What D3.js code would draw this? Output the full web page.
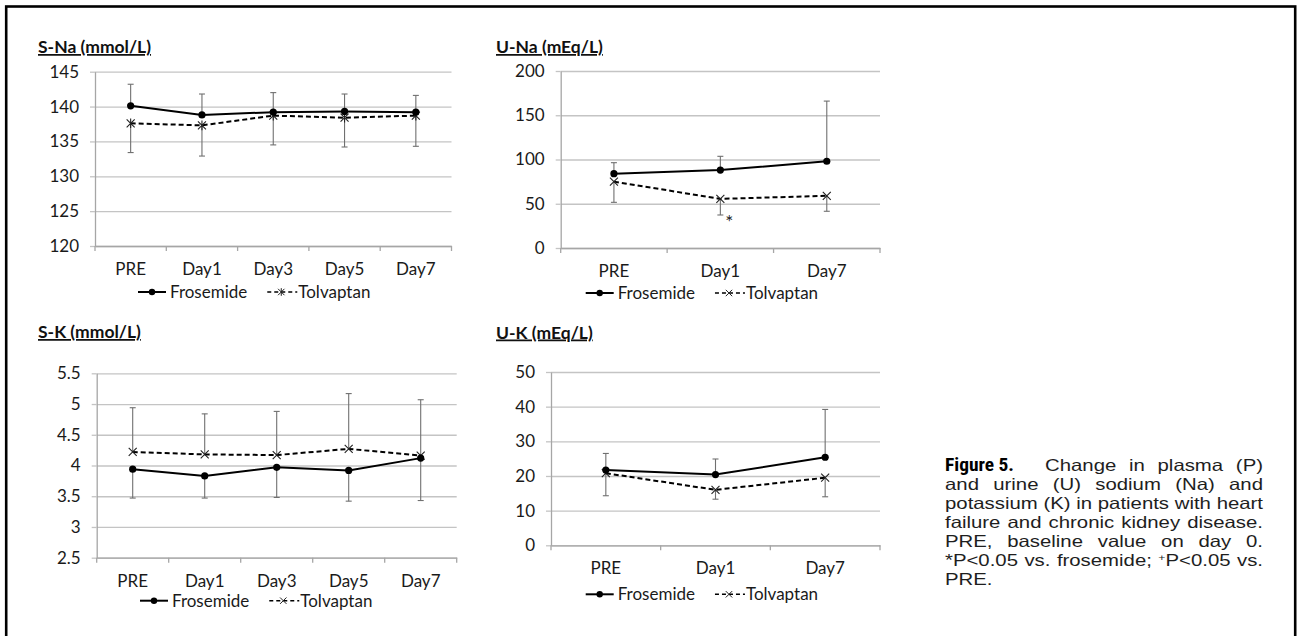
<!DOCTYPE html>
<html>
<head>
<meta charset="utf-8">
<script src="https://cdn.jsdelivr.net/npm/d3@7"></script>
<style>
  body { margin: 0; background: #fff; }
  svg { display: block; }
</style>
</head>
<body>
<div id="chart"></div>
<script>
// values (error bar values are the end of each bar)
var sNaCats = ["PRE", "Day1", "Day3", "Day5", "Day7"];
var sNaTicks = [120, 125, 130, 135, 140, 145];
var sNaFrosemide = [140.1, 138.8, 139.2, 139.3, 139.2];
var sNaFrosemideErr = [143.2, 141.8, 142.0, 141.8, 141.6];
var sNaTolvaptan = [137.6, 137.3, 138.7, 138.4, 138.7];
var sNaTolvaptanErr = [133.4, 132.9, 134.5, 134.2, 134.3];

var uNaCats = ["PRE", "Day1", "Day7"];
var uNaTicks = [0, 50, 100, 150, 200];
var uNaFrosemide = [84, 88, 98];
var uNaFrosemideErr = [96.4, 103.6, 166];
var uNaTolvaptan = [75, 55.5, 59];
var uNaTolvaptanErr = [51.6, 37.3, 41.5];
var uNaNotes = [{ cat: "Day1", value: 31, text: "*" }];

var sKCats = ["PRE", "Day1", "Day3", "Day5", "Day7"];
var sKTicks = [2.5, 3, 3.5, 4, 4.5, 5, 5.5];
var sKFrosemide = [3.94, 3.83, 3.97, 3.92, 4.12];
var sKFrosemideErr = [3.47, 3.47, 3.48, 3.42, 3.43];
var sKTolvaptan = [4.22, 4.18, 4.17, 4.27, 4.16];
var sKTolvaptanErr = [4.94, 4.84, 4.88, 5.17, 5.07];

var uKCats = ["PRE", "Day1", "Day7"];
var uKTicks = [0, 10, 20, 30, 40, 50];
var uKFrosemide = [21.7, 20.4, 25.4];
var uKFrosemideErr = [26.5, 24.9, 39.2];
var uKTolvaptan = [20.8, 16.0, 19.5];
var uKTolvaptanErr = [14.3, 13.3, 14.0];

var seriesNames = ["Frosemide", "Tolvaptan"];

var captionLines = [
  "and urine (U) sodium (Na) and",
  "potassium (K) in patients with heart",
  "failure and chronic kidney disease.",
  "PRE, baseline value on day 0.",
  "*P<0.05 vs. frosemide; +P<0.05 vs.",
  "PRE."
];

var panels = [
  { title: "S-Na (mmol/L)", cats: sNaCats, ticks: sNaTicks,
    fro: sNaFrosemide, froErr: sNaFrosemideErr, tol: sNaTolvaptan, tolErr: sNaTolvaptanErr,
    notes: [], marker: "star",
    x0: 95, x1: 451.5, yBottom: 246, yTop: 71.7, titleX: 38, titleY: 53, legendX: 138, legendY: 292 },
  { title: "U-Na (mEq/L)", cats: uNaCats, ticks: uNaTicks,
    fro: uNaFrosemide, froErr: uNaFrosemideErr, tol: uNaTolvaptan, tolErr: uNaTolvaptanErr,
    notes: uNaNotes, marker: "x",
    x0: 560.7, x1: 880, yBottom: 248, yTop: 71, titleX: 496, titleY: 53, legendX: 585.7, legendY: 293 },
  { title: "S-K (mmol/L)", cats: sKCats, ticks: sKTicks,
    fro: sKFrosemide, froErr: sKFrosemideErr, tol: sKTolvaptan, tolErr: sKTolvaptanErr,
    notes: [], marker: "x",
    x0: 96.7, x1: 456.7, yBottom: 557.7, yTop: 373.3, titleX: 38, titleY: 338, legendX: 140, legendY: 600.7 },
  { title: "U-K (mEq/L)", cats: uKCats, ticks: uKTicks,
    fro: uKFrosemide, froErr: uKFrosemideErr, tol: uKTolvaptan, tolErr: uKTolvaptanErr,
    notes: [], marker: "x",
    x0: 551, x1: 880, yBottom: 545.3, yTop: 372, titleX: 496, titleY: 338.5, legendX: 585.7, legendY: 594.3 }
];

var chartFont = "Lato, 'Open Sans', sans-serif";
var gridColor = "#c4c4c4";
var axisColor = "#a6a6a6";
var errColor = "#707070";

var svg = d3.select("#chart").append("svg")
  .attr("width", 1298)
  .attr("height", 636)
  .style("font-family", chartFont);

svg.append("rect").attr("width", 1298).attr("height", 636).attr("fill", "#fff");

// outer frame
svg.append("rect")
  .attr("x", 6.2).attr("y", 6.5)
  .attr("width", 1289).attr("height", 640)
  .attr("fill", "none")
  .attr("stroke", "#000")
  .attr("stroke-width", 2.6);

function markerPath(type, s) {
  if (type === "star") {
    return "M" + -s + "," + -s + "L" + s + "," + s + "M" + -s + "," + s + "L" + s + "," + -s +
      "M0," + -s * 1.2 + "L0," + s * 1.2;
  }
  return "M" + -s + "," + -s + "L" + s + "," + s + "M" + -s + "," + s + "L" + s + "," + -s;
}

function drawPanel(p) {
  var g = svg.append("g");

  var x = d3.scaleBand().domain(p.cats).range([p.x0, p.x1]).padding(0);
  var y = d3.scaleLinear()
    .domain([d3.min(p.ticks), d3.max(p.ticks)])
    .range([p.yBottom, p.yTop]);
  var cx = function(c) { return x(c) + x.bandwidth() / 2; };

  // title
  g.append("text")
    .attr("x", p.titleX)
    .attr("y", p.titleY)
    .attr("font-size", 17.5)
    .attr("font-weight", "bold")
    .style("text-decoration", "underline")
    .attr("fill", "#111")
    .text(p.title);

  // gridlines
  var grid = g.append("g")
    .attr("transform", "translate(" + p.x0 + ",0)")
    .call(d3.axisLeft(y).tickValues(p.ticks).tickSize(-(p.x1 - p.x0)).tickFormat(""));
  grid.select(".domain").remove();
  grid.selectAll(".tick line").attr("stroke", gridColor).attr("stroke-width", 1.3);

  // y axis with labels
  var yAxis = g.append("g")
    .attr("transform", "translate(" + p.x0 + ",0)")
    .call(d3.axisLeft(y).tickValues(p.ticks).tickSize(5).tickSizeOuter(0).tickPadding(11)
      .tickFormat(function(d) { return String(d); }));
  yAxis.select(".domain").attr("stroke", axisColor).attr("stroke-width", 1.3);
  yAxis.selectAll(".tick line").attr("stroke", gridColor).attr("stroke-width", 1.3);
  yAxis.selectAll(".tick text")
    .attr("font-size", 17)
    .attr("font-family", chartFont)
    .attr("fill", "#1a1a1a");

  // x axis: labels at the centres, tick marks at the band edges
  var xAxis = g.append("g")
    .attr("transform", "translate(0," + p.yBottom + ")")
    .call(d3.axisBottom(x).tickSize(0).tickSizeOuter(0).tickPadding(17));
  xAxis.select(".domain").attr("stroke", axisColor).attr("stroke-width", 1.3);
  xAxis.selectAll(".tick text")
    .attr("font-size", 17)
    .attr("font-family", chartFont)
    .attr("fill", "#1a1a1a");

  var edges = p.cats.map(function(c) { return x(c); }).concat([x.range()[1]]);
  g.selectAll(".xedge")
    .data(edges)
    .enter()
    .append("line")
    .attr("class", "xedge")
    .attr("x1", function(d) { return d; })
    .attr("x2", function(d) { return d; })
    .attr("y1", p.yBottom)
    .attr("y2", p.yBottom + 5)
    .attr("stroke", axisColor)
    .attr("stroke-width", 1.3);

  // error bars
  var bars = [];
  p.cats.forEach(function(c, i) {
    bars.push({ c: c, v: p.fro[i], e: p.froErr[i] });
    bars.push({ c: c, v: p.tol[i], e: p.tolErr[i] });
  });
  var eb = g.append("g").attr("stroke", errColor).attr("stroke-width", 1.1);
  bars.forEach(function(b) {
    eb.append("line")
      .attr("x1", cx(b.c)).attr("x2", cx(b.c))
      .attr("y1", y(b.v)).attr("y2", y(b.e));
    eb.append("line")
      .attr("x1", cx(b.c) - 3).attr("x2", cx(b.c) + 3)
      .attr("y1", y(b.e)).attr("y2", y(b.e));
  });

  var line = d3.line()
    .x(function(d) { return cx(d.c); })
    .y(function(d) { return y(d.v); });

  var froData = p.cats.map(function(c, i) { return { c: c, v: p.fro[i] }; });
  var tolData = p.cats.map(function(c, i) { return { c: c, v: p.tol[i] }; });

  g.append("path")
    .datum(tolData)
    .attr("d", line)
    .attr("fill", "none")
    .attr("stroke", "#000")
    .attr("stroke-width", 2)
    .attr("stroke-dasharray", "5,3");

  g.append("path")
    .datum(froData)
    .attr("d", line)
    .attr("fill", "none")
    .attr("stroke", "#000")
    .attr("stroke-width", 2);

  g.selectAll(".tolmark")
    .data(tolData)
    .enter()
    .append("path")
    .attr("class", "tolmark")
    .attr("transform", function(d) { return "translate(" + cx(d.c) + "," + y(d.v) + ")"; })
    .attr("d", markerPath(p.marker, 4))
    .attr("fill", "none")
    .attr("stroke", "#222")
    .attr("stroke-width", 1.1);

  g.selectAll(".fromark")
    .data(froData)
    .enter()
    .append("circle")
    .attr("class", "fromark")
    .attr("cx", function(d) { return cx(d.c); })
    .attr("cy", function(d) { return y(d.v); })
    .attr("r", 3.6)
    .attr("fill", "#000");

  // significance marks
  p.notes.forEach(function(n) {
    g.append("text")
      .attr("x", cx(n.cat) + 9)
      .attr("y", y(n.value) + 8)
      .attr("text-anchor", "middle")
      .attr("font-size", 19)
      .attr("fill", "#222")
      .text(n.text);
  });

  // legend
  var lg = g.append("g").attr("transform", "translate(" + p.legendX + "," + p.legendY + ")");
  lg.append("line").attr("x1", 0).attr("x2", 28).attr("stroke", "#000").attr("stroke-width", 2);
  lg.append("circle").attr("cx", 14).attr("r", 3.2).attr("fill", "#000");
  var t1 = lg.append("text")
    .attr("x", 32).attr("y", 6)
    .attr("font-size", 17).attr("fill", "#1a1a1a")
    .text(seriesNames[0]);
  var x2 = 32 + t1.node().getComputedTextLength() + 20;
  lg.append("line").attr("x1", x2).attr("x2", x2 + 30)
    .attr("stroke", "#000").attr("stroke-width", 1.6).attr("stroke-dasharray", "4,3");
  lg.append("path")
    .attr("transform", "translate(" + (x2 + 14) + ",0)")
    .attr("d", markerPath(p.marker, 3.2))
    .attr("fill", "none").attr("stroke", "#222").attr("stroke-width", 1);
  lg.append("text")
    .attr("x", x2 + 31).attr("y", 6)
    .attr("font-size", 17).attr("fill", "#1a1a1a")
    .text(seriesNames[1]);
}

panels.forEach(drawPanel);

// caption, justified
function drawCaption() {
  var left = 945, right = 1263, top = 471, step = 19;
  var font = "'Liberation Sans', Arial, sans-serif";
  var size = 16.5;
  var cap = svg.append("g").attr("font-family", font).attr("font-size", size).attr("fill", "#1e1e1e");

  var probe = cap.append("text").text(captionLines[1]);
  var sx = (right - left) / probe.node().getComputedTextLength();
  probe.remove();
  var space = size * 0.278;

  function placeWords(words, startX, endX, baseline, justify) {
    var row = cap.append("g")
      .attr("transform", "translate(" + startX + "," + baseline + ") scale(" + sx + ",1)");
    var nodes = words.map(function(w) {
      var t = row.append("text");
      if (w.charAt(0) === "+") {
        t.append("tspan").attr("font-size", size * 0.6).attr("dy", -5).text("+");
        t.append("tspan").attr("dy", 5).text(w.slice(1));
      } else {
        t.text(w);
      }
      return t;
    });
    var widths = nodes.map(function(t) { return t.node().getComputedTextLength(); });
    var avail = (endX - startX) / sx;
    var gap = justify && words.length > 1 ? (avail - d3.sum(widths)) / (words.length - 1) : space;
    var cur = 0;
    nodes.forEach(function(t, i) {
      t.attr("x", cur);
      cur += widths[i] + gap;
    });
  }

  // first line: bold figure label, then justified text
  cap.append("text")
    .attr("x", left)
    .attr("y", top)
    .attr("font-family", "'Liberation Sans Narrow', 'Roboto Condensed', 'DejaVu Sans Condensed', 'Liberation Sans', sans-serif")
    .attr("font-weight", "bold")
    .attr("font-size", 18)
    .attr("fill", "#000")
    .attr("textLength", 69)
    .attr("lengthAdjust", "spacingAndGlyphs")
    .text("Figure 5.");
  placeWords("Change in plasma (P)".split(" "), 1045, right, top, true);

  captionLines.forEach(function(l, i) {
    var last = i === captionLines.length - 1;
    placeWords(l.split(" "), left, right, top + step * (i + 1), !last);
  });
}

drawCaption();
</script>
</body>
</html>
